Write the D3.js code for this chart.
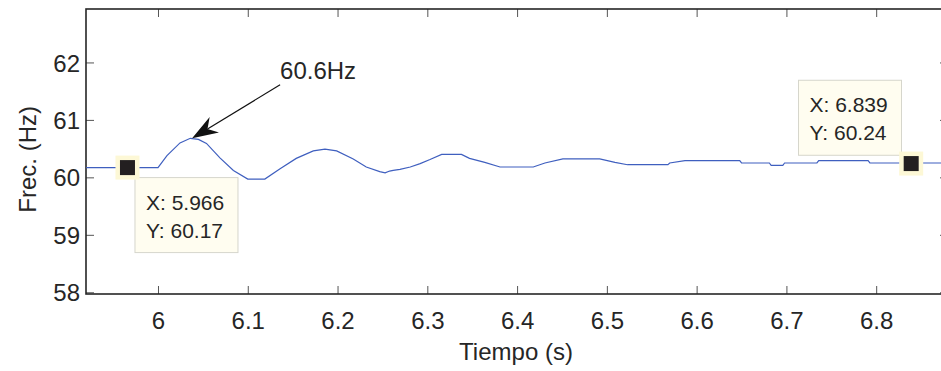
<!DOCTYPE html>
<html>
<head>
<meta charset="utf-8">
<script src="https://cdn.jsdelivr.net/npm/d3@7/dist/d3.min.js"></script>
<style>
body{margin:0;background:#fff;}
svg{display:block;font-family:"Liberation Sans",Arial,Helvetica,sans-serif;}
</style>
</head>
<body>
<div id="chart"></div>
<script>
// frequency trace (s, Hz)
var time=[5.92,6.000,6.010,6.0245,6.036,6.045,6.054,6.069,6.084,6.100,6.119,6.136,6.154,6.173,6.186,6.199,6.2175,6.232,6.247,6.253,6.258,6.262,6.2695,6.281,6.292,6.303,6.316,6.338,6.347,6.364,6.381,6.418,6.431,6.451,6.492,6.509,6.523,6.568,6.570,6.587,6.648,6.650,6.681,6.683,6.696,6.698,6.734,6.736,6.791,6.793,6.876];
var freq=[60.17,60.17,60.38,60.60,60.68,60.66,60.59,60.34,60.12,59.97,59.97,60.15,60.33,60.46,60.49,60.46,60.32,60.18,60.10,60.08,60.11,60.12,60.14,60.18,60.24,60.31,60.40,60.40,60.33,60.26,60.18,60.18,60.25,60.32,60.32,60.26,60.22,60.22,60.25,60.29,60.29,60.25,60.25,60.21,60.21,60.25,60.25,60.29,60.29,60.25,60.25];

var xTicks=[6,6.1,6.2,6.3,6.4,6.5,6.6,6.7,6.8];
var yTicks=[58,59,60,61,62];

// data tips
var tipX=[5.966,6.839];
var tipY=[60.17,60.24];
var tipLabelX=["5.966","6.839"];
var tipLabelY=["60.17","60.24"];

// peak annotation
var peakLabel="60.6Hz";
var peakAt=[6.038,60.68];
var peakTextAt=[6.136,61.75];

(function(){
	var W=941,H=371;
	var pL=86,pT=9,pR=948,pB=294;
	var ink="#262626";

	var x=d3.scaleLinear().domain([5.9198,6.880]).range([pL,pR]);
	var y=d3.scaleLinear().domain([57.97,62.93]).range([pB,pT]);

	var svg=d3.select("#chart").append("svg").attr("width",W).attr("height",H);

	svg.append("defs").append("clipPath").attr("id","clip")
		.append("rect").attr("x",pL).attr("y",pT).attr("width",pR-pL).attr("height",pB-pT);

	// ticks on all four sides, pointing inwards
	var tl=8;
	function styleAxis(g){
		g.select(".domain").remove();
		g.selectAll(".tick line").attr("stroke","#555").attr("stroke-width",1);
		g.selectAll(".tick text").attr("fill",ink).attr("font-size",24).attr("font-family","Liberation Sans, Arial, sans-serif");
	}
	svg.append("g").attr("transform","translate(0,"+pB+")")
		.call(d3.axisBottom(x).tickValues(xTicks).tickSizeInner(-tl).tickSizeOuter(0).tickFormat(d3.format("")))
		.call(styleAxis)
		.selectAll(".tick text").attr("y",35).attr("dy",null);
	svg.append("g").attr("transform","translate(0,"+pT+")")
		.call(d3.axisTop(x).tickValues(xTicks).tickSizeInner(-tl).tickSizeOuter(0).tickFormat(""))
		.call(styleAxis);
	svg.append("g").attr("transform","translate("+pL+",0)")
		.call(d3.axisLeft(y).tickValues(yTicks).tickSizeInner(-tl).tickSizeOuter(0).tickFormat(d3.format("d")))
		.call(styleAxis)
		.selectAll(".tick text").attr("x",-6).attr("dy","0.36em");
	svg.append("g").attr("transform","translate("+pR+",0)")
		.call(d3.axisRight(y).tickValues(yTicks).tickSizeInner(-tl).tickSizeOuter(0).tickFormat(""))
		.call(styleAxis);

	// box
	svg.append("rect").attr("x",pL).attr("y",pT).attr("width",pR-pL).attr("height",pB-pT)
		.attr("fill","none").attr("stroke",ink).attr("stroke-width",1.6);

	// trace
	var line=d3.line().x(function(d,i){return x(time[i]);}).y(function(d){return y(d);});
	svg.append("path").datum(freq).attr("clip-path","url(#clip)")
		.attr("d",line).attr("fill","none").attr("stroke","#3f5fbf").attr("stroke-width",1.2);

	// axis titles
	svg.append("text").attr("x",516).attr("y",360)
		.attr("text-anchor","middle").attr("font-size",24).attr("fill",ink).text("Tiempo (s)");
	svg.append("text").attr("transform","translate(36,"+(y(60)-18)+") rotate(-90)")
		.attr("text-anchor","middle").attr("font-size",24).attr("fill",ink).text("Frec. (Hz)");

	// annotation arrow
	var ax0=x(peakTextAt[0]),ay0=y(peakTextAt[1])+8;
	var ax1=x(peakAt[0]),ay1=y(peakAt[1]);
	var dx=ax0-ax1,dy=ay0-ay1,len=Math.sqrt(dx*dx+dy*dy);
	var ux=dx/len,uy=dy/len,nx=-uy,ny=ux;
	svg.append("line").attr("x1",ax0).attr("y1",ay0).attr("x2",ax1+ux*18).attr("y2",ay1+uy*18)
		.attr("stroke","#111").attr("stroke-width",1.2);
	var head=[[ax1,ay1],[ax1+ux*26+nx*9,ay1+uy*26+ny*9],[ax1+ux*18,ay1+uy*18],[ax1+ux*26-nx*9,ay1+uy*26-ny*9]];
	svg.append("polygon").attr("points",head.map(function(p){return p.join(",");}).join(" ")).attr("fill","#111");
	svg.append("text").attr("x",ax0).attr("y",ay0-6).attr("font-size",24).attr("fill",ink).text(peakLabel);

	// data tips
	var boxW=103,boxH=75;
	var boxPos=[function(px,py){return [px+7.5,py+10];},function(px,py){return [px-9.7-boxW,py-8.3-boxH];}];
	tipX.forEach(function(tx,i){
		var px=x(tx),py=y(tipY[i]);
		var b=boxPos[i](px,py);
		var g=svg.append("g");
		g.append("rect").attr("x",b[0]).attr("y",b[1]).attr("width",boxW).attr("height",boxH)
			.attr("fill","#fffdf0").attr("stroke","#d6d6cc").attr("stroke-width",1);
		g.append("text").attr("x",b[0]+11).attr("y",b[1]+32).attr("font-size",21).attr("fill",ink).text("X: "+tipLabelX[i]);
		g.append("text").attr("x",b[0]+11).attr("y",b[1]+60).attr("font-size",21).attr("fill",ink).text("Y: "+tipLabelY[i]);
		svg.append("rect").attr("x",px-12).attr("y",py-12).attr("width",24).attr("height",24).attr("fill","#fdf8d6");
		svg.append("rect").attr("x",px-7.5).attr("y",py-7.5).attr("width",15).attr("height",15).attr("fill","#231f20");
	});
})();
</script>
</body>
</html>
